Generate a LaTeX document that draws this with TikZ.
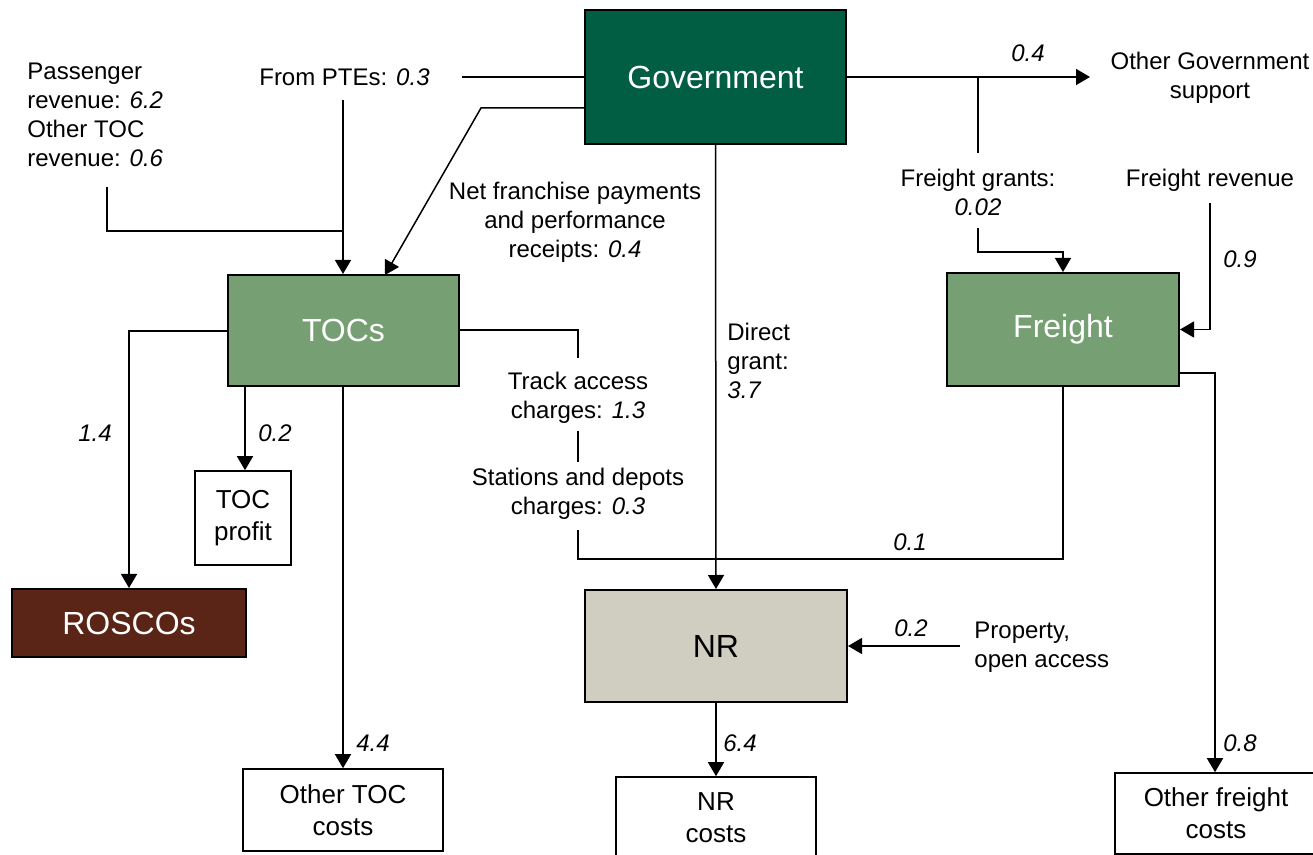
\documentclass[tikz,border=0pt]{standalone}
\usepackage{fontspec}
\setmainfont{Liberation Sans}
\usetikzlibrary{arrows.meta}
\definecolor{govgreen}{RGB}{2,94,67}
\definecolor{midgreen}{RGB}{118,160,115}
\definecolor{roscobrown}{RGB}{90,36,22}
\definecolor{nrgrey}{RGB}{207,206,193}
\begin{document}
\begin{tikzpicture}[x=0.5pt,y=-0.5pt,
  bigbox/.style={draw=black, line width=1pt, inner sep=0pt, font=\fontsize{16}{19}\selectfont},
  wbox/.style={draw=black, line width=0.8pt, fill=white, inner sep=0pt, align=center, font=\fontsize{13}{16}\selectfont},
  lbl/.style={inner sep=0pt, align=center, font=\fontsize{12}{14.5}\selectfont},
  lbll/.style={inner sep=0pt, align=left, font=\fontsize{12}{14.5}\selectfont},
  num/.style={inner sep=0pt, font=\fontsize{12}{14.5}\selectfont\itshape},
  conn/.style={line width=0.75pt},
  arr/.style={line width=0.75pt, -{Triangle[length=7pt,width=8pt]}}]
\useasboundingbox (0,0) rectangle (1313,855);
\begin{scope}
\clip (0,0) rectangle (1313,855);
% boxes
\node[bigbox, fill=govgreen, text=white, minimum width=130.5pt, minimum height=67pt] (gov) at (715.5,77) {Government};
\node[bigbox, fill=midgreen, text=white, minimum width=115.5pt, minimum height=55.5pt] (tocs) at (343.5,330.5) {TOCs};
\node[bigbox, fill=midgreen, text=white, minimum width=116pt, minimum height=56.5pt] (freight) at (1063,329.5) {Freight};
\node[bigbox, fill=roscobrown, text=white, minimum width=117pt, minimum height=34pt] (roscos) at (129,623) {ROSCOs};
\node[bigbox, fill=nrgrey, text=black, minimum width=131pt, minimum height=56pt] (nr) at (716,646) {NR};
\node[wbox, minimum width=48pt, minimum height=47pt] (tocprofit) at (243,518) {TOC\\profit};
\node[wbox, minimum width=100pt, minimum height=41pt] (othertoc) at (343,810) {Other TOC\\costs};
\node[wbox, minimum width=100pt, minimum height=58pt] (nrcosts) at (716,835) {};
\node[lbl, font=\fontsize{13}{16}\selectfont] (nrcoststxt) at (716,818) {NR\\costs};
\node[wbox, minimum width=101pt, minimum height=40.5pt] (otherfreight) at (1216,813.5) {Other freight\\costs};

% text labels
\node[lbl, anchor=east] (ptes) at (430,77) {From PTEs: \textit{0.3}};
\node[lbll, anchor=west] (pass) at (27,115) {Passenger\\revenue: \textit{6.2}\\Other TOC\\revenue: \textit{0.6}};
\node[lbl] (netfr) at (575,222) {Net franchise payments\\and performance\\receipts: \textit{0.4}};
\node[lbl] (othergov) at (1210,77.5) {Other Government\\support};
\node[lbl] (fgrants) at (978,192.5) {Freight grants:\\\textit{0.02}};
\node[lbl] (frev) at (1210,180) {Freight revenue};
\node[lbll, anchor=west] (direct) at (727,361) {Direct\\grant:\\\textit{3.7}};
\node[lbl] (track) at (578,397.5) {Track access\\charges: \textit{1.3}};
\node[lbl] (stations) at (578,494) {Stations and depots\\charges: \textit{0.3}};
\node[lbll, anchor=west] (property) at (974,647.5) {Property,\\open access};
\node[num] (n04) at (1028,53) {0.4};
\node[num] (n09) at (1240,259) {0.9};
\node[num] (n01) at (910,542) {0.1};
\node[num] (n14) at (95,433) {1.4};
\node[num] (n02a) at (275,433) {0.2};
\node[num] (n44) at (373,743) {4.4};
\node[num] (n64) at (740,743) {6.4};
\node[num] (n02b) at (911,628) {0.2};
\node[num] (n08) at (1240,743) {0.8};

% coordinates
\coordinate (pteend) at (462,77);
\coordinate (ptetop) at (343,100);
\coordinate (passtop) at (107,187);
\coordinate (passcorner) at (107,231);
\coordinate (passjoin) at (343,231);
\coordinate (govl2) at (585,108);
\coordinate (bend) at (481,108);
\coordinate (nftip) at (385,275);
\coordinate (ogtip) at (1090,77);
\coordinate (fgbranch) at (978,77);
\coordinate (fgbranchend) at (978,153);
\coordinate (fgtop) at (978,228);
\coordinate (fgcorner) at (978,252);
\coordinate (fgcorner2) at (1063,252);
\coordinate (frtop) at (1210,203);
\coordinate (frcorner) at (1210,329.5);
\coordinate (fout) at (1179,373);
\coordinate (foutc) at (1215,373);
\coordinate (fbotc) at (1063,559);
\coordinate (stc) at (578,559);
\coordinate (stbot) at (578,530);
\coordinate (trkc) at (578,330);
\coordinate (trktop) at (578,358);
\coordinate (midtop) at (578,431);
\coordinate (midbot) at (578,462);
\coordinate (rosc) at (129,331);
\coordinate (profitsrc) at (245,386);
\coordinate (propend) at (960,646);

% connectors
\draw[conn] (gov.west) -- (pteend);
\draw[arr] (ptetop) -- (ptetop |- tocs.north);
\draw[conn] (passtop) -- (passcorner) -- (passjoin);
\draw[arr] (govl2) -- (bend) -- (nftip);
\draw[arr] (gov.south) -- (nr.north);
\draw[arr] (gov.east) -- (ogtip);
\draw[conn] (fgbranch) -- (fgbranchend);
\draw[arr] (fgtop) -- (fgcorner) -- (fgcorner2) -- (fgcorner2 |- freight.north);
\draw[arr] (frtop) -- (frcorner) -- (freight.east);
\draw[arr] (fout) -- (foutc) -- (foutc |- otherfreight.north);
\draw[conn] (freight.south) -- (fbotc) -- (stc) -- (stbot);
\draw[conn] (tocs.east |- trkc) -- (trkc) -- (trktop);
\draw[conn] (midtop) -- (midbot);
\draw[arr] (tocs.west |- rosc) -- (rosc) -- (roscos.north);
\draw[arr] (profitsrc) -- (profitsrc |- tocprofit.north);
\draw[arr] (tocs.south) ++(-0.5,0) -- (othertoc.north);
\draw[arr] (nr.south) -- (nrcosts.north);
\draw[arr] (propend) -- (nr.east);
\end{scope}
\end{tikzpicture}
\end{document}
